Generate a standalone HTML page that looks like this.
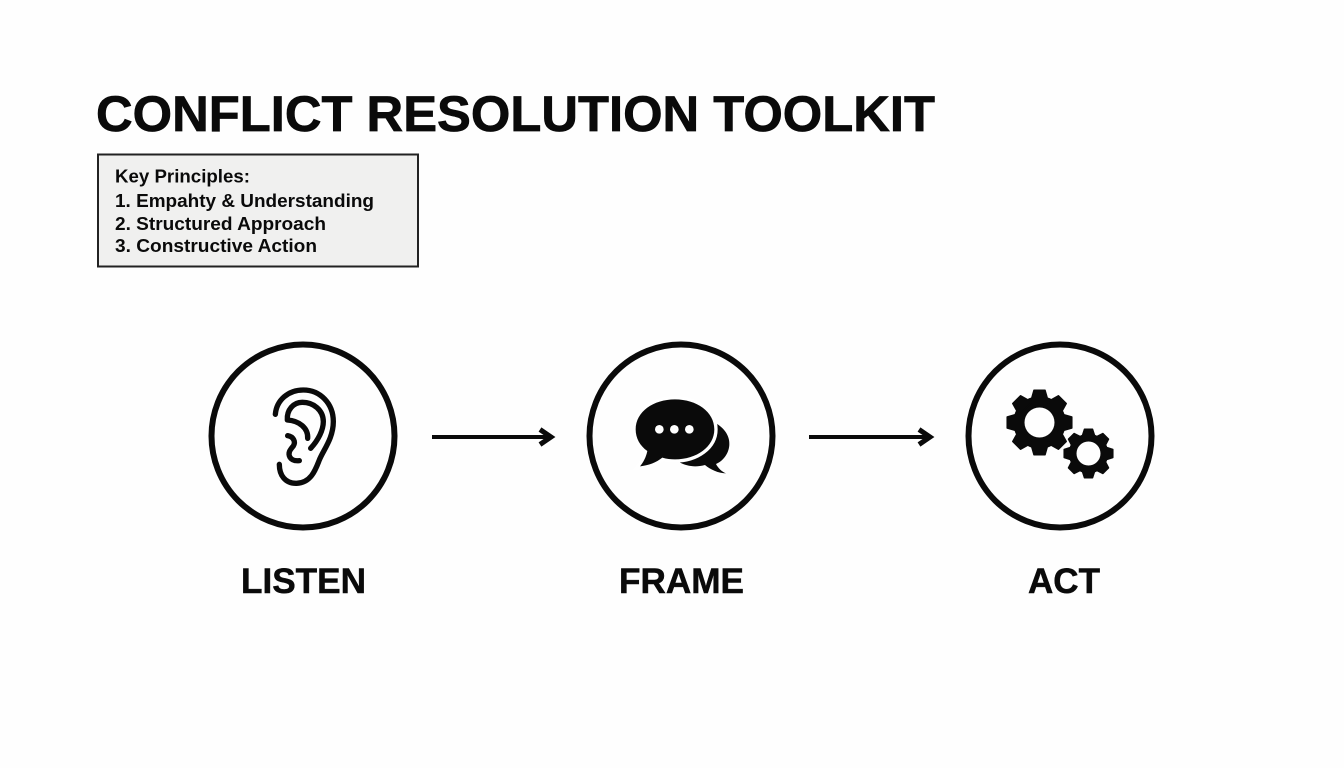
<!DOCTYPE html>
<html lang="en">
<head>
<meta charset="utf-8">
<title>Conflict Resolution Toolkit</title>
<style>
html,body{margin:0;padding:0;background:#fff;width:1344px;height:768px;overflow:hidden}
svg{display:block}
text{font-family:"Liberation Sans",Arial,sans-serif;font-weight:700;fill:#0a0a0a}
</style>
</head>
<body>
<svg width="1344" height="768" viewBox="0 0 1344 768" xmlns="http://www.w3.org/2000/svg">
<rect width="1344" height="768" fill="#fefefe"/>
<text x="96" y="131" font-size="50" textLength="839" lengthAdjust="spacingAndGlyphs" stroke="#0a0a0a" stroke-width=".7">CONFLICT RESOLUTION TOOLKIT</text>

<rect x="98" y="154.500" width="320" height="112" fill="#f0f0ef" stroke="#222" stroke-width="2"/>
<g font-size="18.500">
<text x="115" y="182.500" textLength="135" lengthAdjust="spacingAndGlyphs">Key Principles:</text>
<text x="115" y="207" textLength="259" lengthAdjust="spacingAndGlyphs">1. Empahty &amp; Understanding</text>
<text x="115" y="230" textLength="211" lengthAdjust="spacingAndGlyphs">2. Structured Approach</text>
<text x="115" y="252" textLength="202" lengthAdjust="spacingAndGlyphs">3. Constructive Action</text>
</g>

<g fill="none" stroke="#0a0a0a" stroke-width="6">
<circle cx="303" cy="436" r="91.500"/>
<circle cx="681" cy="436" r="91.500"/>
<circle cx="1060" cy="436" r="91.500"/>
</g>

<g stroke="#0a0a0a" fill="none" stroke-width="4">
<line x1="432" y1="437" x2="551" y2="437"/>
<polyline points="540,429.500 551,437 540,444.500" stroke-width="5"/>
<line x1="809" y1="437" x2="930" y2="437"/>
<polyline points="919,429.500 930,437 919,444.500" stroke-width="5"/>
</g>

<!-- Ear -->
<g transform="translate(240 370) scale(.3333)" fill="none" stroke="#0a0a0a" stroke-width="16" stroke-linecap="round" stroke-linejoin="round">
<path d="M106 133 C110 90 145 60 190 60 C240 60 280 100 280 155 C280 205 250 240 238 270 C228 295 215 338 170 340 C135 341 118 315 118 283"/>
<path d="M212 235 C235 210 250 180 250 155 C250 120 220 97 187 97 C160 97 140 120 142 150 C178 152 205 175 203 205"/>
<path d="M143 197 C160 200 168 215 160 228 C152 238 142 248 150 262 C156 272 168 273 178 272"/>
</g>

<!-- Speech bubbles -->
<g transform="translate(620 380) scale(.3333)">
<path d="M285 128 C315 145 330 170 328 195 C326 225 305 245 288 252 C295 265 305 275 318 280 C295 280 270 268 255 255 C225 263 200 258 180 248 Z" fill="#0a0a0a"/>
<path d="M165 58 C100 58 47 95 47 148 C47 175 60 197 82 213 C78 232 70 247 60 259 C85 257 110 247 127 233 C140 237 152 238 165 238 C230 238 283 200 283 148 C283 95 230 58 165 58 Z" fill="#0a0a0a" stroke="#fff" stroke-width="20" paint-order="stroke"/>
<circle cx="118" cy="148" r="13" fill="#fff"/>
<circle cx="163" cy="148" r="13" fill="#fff"/>
<circle cx="208" cy="148" r="13" fill="#fff"/>
</g>

<!-- Big gear -->
<g transform="translate(1039.500 422.500)" fill="#0a0a0a" stroke="#0a0a0a" stroke-width="1.500" stroke-linejoin="round">
<circle r="25.500"/>
<polygon points="-9,-20 -5.500,-32.300 5.500,-32.300 9,-20"/>
<polygon points="-9,-20 -5.500,-32.300 5.500,-32.300 9,-20" transform="rotate(45)"/>
<polygon points="-9,-20 -5.500,-32.300 5.500,-32.300 9,-20" transform="rotate(90)"/>
<polygon points="-9,-20 -5.500,-32.300 5.500,-32.300 9,-20" transform="rotate(135)"/>
<polygon points="-9,-20 -5.500,-32.300 5.500,-32.300 9,-20" transform="rotate(180)"/>
<polygon points="-9,-20 -5.500,-32.300 5.500,-32.300 9,-20" transform="rotate(225)"/>
<polygon points="-9,-20 -5.500,-32.300 5.500,-32.300 9,-20" transform="rotate(270)"/>
<polygon points="-9,-20 -5.500,-32.300 5.500,-32.300 9,-20" transform="rotate(315)"/>
<circle r="15" fill="#fefefe" stroke="none"/>
</g>

<!-- Small gear -->
<g transform="translate(1088.500 453.500)" fill="#0a0a0a" stroke="#0a0a0a" stroke-width="1.500" stroke-linejoin="round">
<circle r="19"/>
<polygon points="-7,-15 -4,-24.300 4,-24.300 7,-15"/>
<polygon points="-7,-15 -4,-24.300 4,-24.300 7,-15" transform="rotate(45)"/>
<polygon points="-7,-15 -4,-24.300 4,-24.300 7,-15" transform="rotate(90)"/>
<polygon points="-7,-15 -4,-24.300 4,-24.300 7,-15" transform="rotate(135)"/>
<polygon points="-7,-15 -4,-24.300 4,-24.300 7,-15" transform="rotate(180)"/>
<polygon points="-7,-15 -4,-24.300 4,-24.300 7,-15" transform="rotate(225)"/>
<polygon points="-7,-15 -4,-24.300 4,-24.300 7,-15" transform="rotate(270)"/>
<polygon points="-7,-15 -4,-24.300 4,-24.300 7,-15" transform="rotate(315)"/>
<circle r="12" fill="#fefefe" stroke="none"/>
</g>

<g font-size="35" stroke="#0a0a0a" stroke-width=".5">
<text x="241" y="593" textLength="125" lengthAdjust="spacingAndGlyphs">LISTEN</text>
<text x="619" y="593" textLength="125" lengthAdjust="spacingAndGlyphs">FRAME</text>
<text x="1028" y="593" textLength="72" lengthAdjust="spacingAndGlyphs">ACT</text>
</g>
</svg>
</body>
</html>
